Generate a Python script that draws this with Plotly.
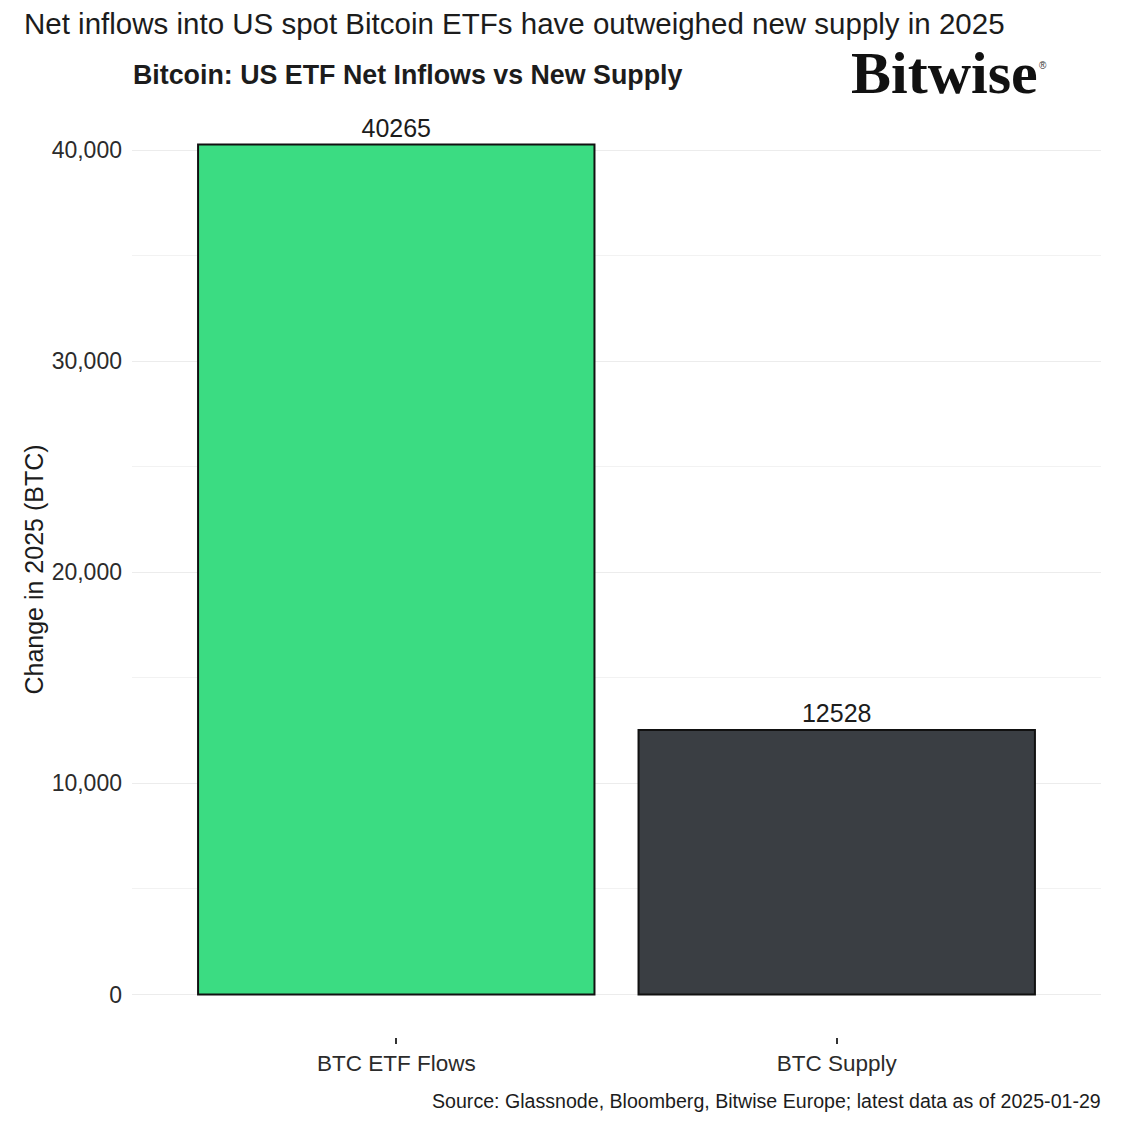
import plotly.graph_objects as go

# values
categories = ["BTC ETF Flows", "BTC Supply"]
btc_change = [40265, 12528]
bar_colors = ["#3bdc82", "#3a3e43"]
y_ticks = [0, 10000, 20000, 30000, 40000]
y_tick_labels = ["0", "10,000", "20,000", "30,000", "40,000"]

W = 1125
H = 1125
left, right, top, bottom = 132, 24, 102, 88

font = "Liberation Sans, Arial, sans-serif"
ink = "#1c1c1c"


def px_x(x):
    return (x - left) / (W - left - right)


def px_y(y):
    return 1 - (y - top) / (H - top - bottom)


fig = go.Figure()
fig.add_trace(go.Bar(
    x=[0, 1],
    y=btc_change,
    width=0.9,
    marker_color=bar_colors,
    marker_line_color="#111111",
    marker_line_width=2,
    text=[str(v) for v in btc_change],
    textposition="outside",
    cliponaxis=False,
    textfont=dict(family=font, size=25, color=ink),
    showlegend=False,
    hoverinfo="skip",
))

fig.update_xaxes(
    range=[-0.6, 1.6],
    tickvals=[0, 1],
    ticktext=categories,
    ticks="outside",
    ticklen=6,
    tickwidth=1.5,
    tickcolor="#333333",
    showgrid=False,
    zeroline=False,
    showline=False,
    tickfont=dict(family=font, size=22.5, color="#2b2b2b"),
)
fig.update_yaxes(
    range=[-2013, 42278],
    tickvals=y_ticks,
    ticktext=y_tick_labels,
    ticks="",
    ticklabelstandoff=9,
    showgrid=True,
    gridcolor="#ececec",
    gridwidth=1.2,
    minor=dict(dtick=5000, showgrid=True, gridcolor="#f2f2f2", gridwidth=1),
    zeroline=False,
    showline=False,
    tickfont=dict(family=font, size=23, color="#2b2b2b"),
    title=dict(text="Change in 2025 (BTC)", font=dict(family=font, size=25, color=ink), standoff=0),
)


def label(text, x, y, size, anchor="left", family=font, color=ink):
    fig.add_annotation(
        text=text, x=px_x(x), y=px_y(y), xref="paper", yref="paper",
        xanchor=anchor, yanchor="middle", showarrow=False,
        font=dict(family=family, size=size, color=color),
    )


label("Net inflows into US spot Bitcoin ETFs have outweighed new supply in 2025", 22, 24, 29.5)
label("<b>Bitcoin: US ETF Net Inflows vs New Supply</b>", 131, 75, 26.8)
label("<b>Bitwise</b>", 849, 73, 60, family="Liberation Serif, Times New Roman, serif", color="#111111")
label("®", 1037, 66, 10, family=font, color="#333333")
label("Source: Glassnode, Bloomberg, Bitwise Europe; latest data as of 2025-01-29", 1103, 1101, 19.6, anchor="right")

fig.update_layout(
    width=W,
    height=H,
    autosize=False,
    margin=dict(l=left, r=right, t=top, b=bottom, pad=0),
    paper_bgcolor="white",
    plot_bgcolor="white",
    bargap=0.1,
)

fig.write_html("out.html", config={"displayModeBar": False}, post_script="document.body.style.margin='0';")
